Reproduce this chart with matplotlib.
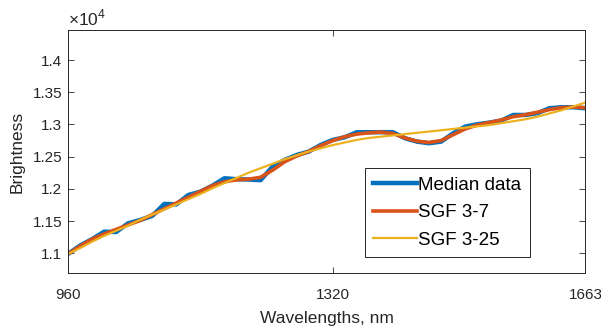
import numpy as np
import matplotlib
matplotlib.use("Agg")
import matplotlib.pyplot as plt
from matplotlib.ticker import FuncFormatter

plt.rcParams['font.family'] = ['Liberation Sans', 'DejaVu Sans']
plt.rcParams['mathtext.fontset'] = 'custom'
plt.rcParams['mathtext.rm'] = 'Liberation Sans'

# spectrum sampled from 960 to 1663 nm, 44 points
wavelengths = np.linspace(960, 1663, 44)

median_data = [10990, 11120, 11220, 11335, 11330, 11466, 11517, 11580, 11766, 11760,
               11905, 11957, 12050, 12165, 12150, 12145, 12135, 12345, 12449, 12526,
               12578, 12682, 12760, 12801, 12879, 12879, 12880, 12880, 12786, 12733,
               12708, 12733, 12863, 12966, 13003, 13028, 13059, 13147, 13147, 13174,
               13252, 13267, 13267, 13250]

sgf_3_7 = [10990, 11110, 11220, 11300, 11370, 11440, 11510, 11600, 11690, 11780,
           11870, 11960, 12050, 12110, 12140, 12150, 12180, 12290, 12420, 12510,
           12580, 12670, 12750, 12810, 12850, 12870, 12880, 12860, 12790, 12740,
           12720, 12750, 12840, 12930, 12990, 13030, 13070, 13120, 13150, 13190,
           13230, 13260, 13270, 13260]

sgf_3_25 = [10990, 11080, 11180, 11270, 11350, 11430, 11520, 11600, 11680, 11760,
            11840, 11920, 12010, 12090, 12170, 12250, 12320, 12390, 12460, 12520,
            12580, 12630, 12680, 12720, 12760, 12790, 12810, 12830, 12850, 12870,
            12890, 12910, 12930, 12950, 12970, 12990, 13020, 13050, 13080, 13120,
            13170, 13220, 13280, 13340]

x_ticks = [960, 1320, 1663]
y_ticks = [11000, 11500, 12000, 12500, 13000, 13500, 14000]

axis_grey = '#262626'

fig = plt.figure(figsize=(6.01, 3.27), dpi=100)
ax = fig.add_axes([0.1131, 0.1651, 0.8611, 0.7432])

ax.plot(wavelengths, median_data, color='#0072BD', lw=3.2, label='Median data')
ax.plot(wavelengths, sgf_3_7, color='#D95319', lw=2.6, label='SGF 3-7')
ax.plot(wavelengths, sgf_3_25, color='#EDB120', lw=1.6, label='SGF 3-25')

ax.set_xlim(960, 1663)
ax.set_ylim(10694, 14466)
ax.set_xticks(x_ticks)
ax.set_yticks(y_ticks)
ax.yaxis.set_major_formatter(FuncFormatter(lambda v, p: '%g' % (v / 1e4)))

ax.tick_params(direction='in', top=True, right=True, length=4, width=0.6,
               colors=axis_grey, labelsize=11)
ax.tick_params(axis='x', pad=11)
ax.tick_params(axis='y', pad=4)
for sp in ax.spines.values():
    sp.set_color(axis_grey)
    sp.set_linewidth(0.7)

ax.set_xlabel('Wavelengths, nm', fontsize=12.5, color=axis_grey, labelpad=6)
ax.set_ylabel('Brightness', fontsize=12.5, color=axis_grey, labelpad=6)

ax.text(0.0, 1.005, r'$\times10^{4}$', transform=ax.transAxes,
        fontsize=12.5, color=axis_grey, ha='left', va='bottom')

leg = ax.legend(loc='lower left', bbox_to_anchor=(0.574, 0.066), borderaxespad=0,
                fontsize=13.5, fancybox=False, framealpha=1, edgecolor=axis_grey,
                handlelength=2.3, handletextpad=0.1, labelspacing=0.55,
                borderpad=0.45)
leg.get_frame().set_linewidth(0.7)

fig.savefig('out.png', dpi=100)
